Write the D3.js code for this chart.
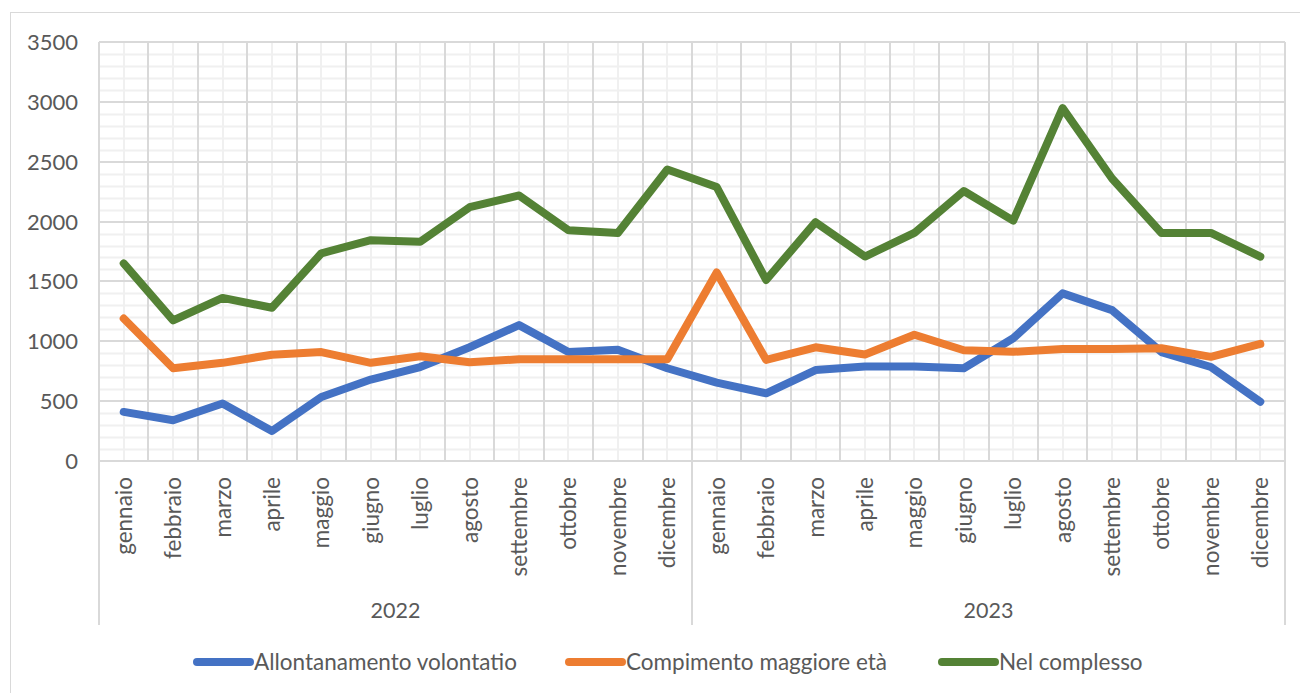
<html>
<meta charset="utf-8">
<style>
body{ margin:0; background:#fff; }
text{ font-family: Lato, "Open Sans", sans-serif; fill:#595959; }
.serie{ fill:none; stroke-width:8px; stroke-linejoin:round; stroke-linecap:round; }
</style>
<body>
<script src="https://d3js.org/d3.v7.min.js"></script>
<script>

var mesi=["gennaio","febbraio","marzo","aprile","maggio","giugno","luglio","agosto","settembre","ottobre","novembre","dicembre"];
var anni=["2022","2023"];
var allontanamento=[410,340,480,250,535,680,785,950,1135,910,930,775, 655,565,760,790,790,775,1025,1400,1260,910,785,495];
var compimento=[1190,775,820,888,910,820,875,825,850,850,850,850, 1575,845,950,890,1055,925,912,935,935,942,870,978];
var complesso=[1650,1175,1362,1280,1735,1845,1832,2120,2218,1928,1905,2435, 2288,1512,1995,1708,1905,2255,2008,2948,2360,1905,1905,1707];
var yTicks=[0,500,1000,1500,2000,2500,3000,3500];

var serie=[
	{nome:"Allontanamento volontatio", valori:allontanamento, colore:"#4472C4"},
	{nome:"Compimento maggiore età", valori:compimento, colore:"#ED7D31"},
	{nome:"Nel complesso", valori:complesso, colore:"#548235"}
];

// categorie: anno + mese
var cat=[];
anni.forEach(function(a){ mesi.forEach(function(m){ cat.push(a+"|"+m); }); });

var svg=d3.select("body").append("svg").attr("width",1300).attr("height",693);

// cornice del grafico
svg.append("rect").attr("x",10.5).attr("y",12.5).attr("width",1300).attr("height",700)
	.attr("fill","none").attr("stroke","#d9d9d9").attr("stroke-width",1);

var x=d3.scaleBand().domain(cat).range([99,1285]).padding(0);
var y=d3.scaleLinear().domain([0,3500]).range([461,42]);
var cx=function(i){ return x(cat[i])+x.bandwidth()/2; };

var grid=svg.append("g");
// griglia secondaria
grid.selectAll(".hmin").data(d3.range(0,3501,100).filter(function(v){return v%500!=0;}))
	.enter().append("line")
	.attr("x1",99).attr("x2",1285)
	.attr("y1",function(d){return Math.round(y(d))+0.5;}).attr("y2",function(d){return Math.round(y(d))+0.5;})
	.attr("stroke","#f0f0f0").attr("stroke-width",2);
grid.selectAll(".vmin").data(cat).enter().append("line")
	.attr("x1",function(d,i){return Math.round(cx(i));}).attr("x2",function(d,i){return Math.round(cx(i));})
	.attr("y1",42).attr("y2",461)
	.attr("stroke","#f0f0f0").attr("stroke-width",2);
// griglia principale
grid.selectAll(".hmaj").data(yTicks).enter().append("line")
	.attr("x1",99).attr("x2",1285)
	.attr("y1",function(d){return Math.round(y(d));}).attr("y2",function(d){return Math.round(y(d));})
	.attr("stroke","#d9d9d9").attr("stroke-width",2);
grid.selectAll(".vmaj").data(d3.range(cat.length+1)).enter().append("line")
	.attr("x1",function(i){return Math.round(99+i*x.bandwidth());}).attr("x2",function(i){return Math.round(99+i*x.bandwidth());})
	.attr("y1",42).attr("y2",461)
	.attr("stroke","#d9d9d9").attr("stroke-width",2);

// separatori degli anni sotto l'asse
svg.selectAll(".sep").data(d3.range(anni.length+1)).enter().append("line")
	.attr("x1",function(i){return Math.round(99+i*12*x.bandwidth());}).attr("x2",function(i){return Math.round(99+i*12*x.bandwidth());})
	.attr("y1",461).attr("y2",625)
	.attr("stroke","#d9d9d9").attr("stroke-width",2);

// etichette asse y
svg.selectAll(".ylab").data(yTicks).enter().append("text")
	.attr("x",78).attr("y",function(d){return y(d)+8;})
	.attr("text-anchor","end").style("font-size","22px")
	.text(function(d){return d;});

// etichette mesi
svg.selectAll(".mese").data(cat).enter().append("text")
	.attr("transform",function(d,i){return "translate("+(cx(i)+8)+",477) rotate(-90)";})
	.attr("text-anchor","end").style("font-size","22.5px")
	.text(function(d){return d.split("|")[1];});

// etichette anni
svg.selectAll(".anno").data(anni).enter().append("text")
	.attr("x",function(d,i){return 99+(i*12+6)*x.bandwidth();}).attr("y",618)
	.attr("text-anchor","middle").style("font-size","21.5px")
	.text(function(d){return d;});

// linee
var line=d3.line().x(function(d,i){return cx(i);}).y(function(d){return y(d);});
svg.selectAll(".serie").data(serie).enter().append("path")
	.attr("class","serie")
	.attr("stroke",function(d){return d.colore;})
	.attr("d",function(d){return line(d.valori);});

// legenda
var legX=[193,565,938];
var leg=svg.selectAll(".leg").data(serie).enter().append("g")
	.attr("transform",function(d,i){return "translate("+legX[i]+",662)";});
leg.append("line").attr("x1",4).attr("x2",57).attr("y1",0).attr("y2",0)
	.attr("stroke",function(d){return d.colore;}).attr("stroke-width",8).attr("stroke-linecap","round");
leg.append("text").attr("x",61).attr("y",8).style("font-size","22.5px")
	.text(function(d){return d.nome;});

</script>
</body>
</html>
